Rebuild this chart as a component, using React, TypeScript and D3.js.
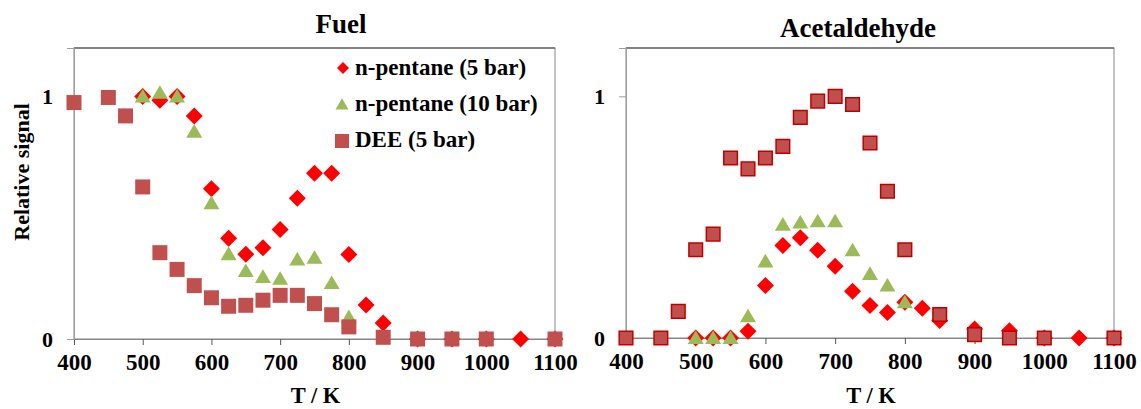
import React, { useRef, useEffect } from 'react';
import * as d3 from 'd3';

// Temperatures (K) and relative signals
const fuelP5T = [500, 525, 550, 575, 600, 625, 650, 675, 700, 725, 750, 775, 800, 825, 850, 900, 950, 1000, 1050, 1100];
const fuelP5 = [1.0, 0.985, 1.0, 0.92, 0.62, 0.415, 0.35, 0.376, 0.452, 0.58, 0.683, 0.683, 0.348, 0.14, 0.066, 0, 0, 0, 0, 0];
const fuelP10T = [500, 525, 550, 575, 600, 625, 650, 675, 700, 725, 750, 775, 800];
const fuelP10 = [1.0, 1.015, 1.0, 0.855, 0.56, 0.35, 0.28, 0.256, 0.248, 0.328, 0.335, 0.231, 0.09];
const fuelDeeT = [400, 450, 475, 500, 525, 550, 575, 600, 625, 650, 675, 700, 725, 750, 775, 800, 850, 900, 950, 1000, 1100];
const fuelDee = [0.975, 0.996, 0.92, 0.627, 0.356, 0.287, 0.22, 0.17, 0.135, 0.139, 0.16, 0.18, 0.18, 0.146, 0.1, 0.05, 0.007, 0, 0, 0, 0];

const aceP5T = [500, 525, 550, 575, 600, 625, 650, 675, 700, 725, 750, 775, 800, 825, 850, 900, 950, 1000, 1050, 1100];
const aceP5 = [0, 0, 0, 0.028, 0.217, 0.383, 0.415, 0.363, 0.297, 0.193, 0.135, 0.106, 0.148, 0.123, 0.072, 0.037, 0.03, 0, 0, 0];
const aceP10T = [500, 525, 550, 575, 600, 625, 650, 675, 700, 725, 750, 775, 800];
const aceP10 = [0, 0, 0, 0.09, 0.317, 0.469, 0.478, 0.483, 0.483, 0.363, 0.265, 0.217, 0.148];
const aceDeeT = [400, 450, 475, 500, 525, 550, 575, 600, 625, 650, 675, 700, 725, 750, 775, 800, 850, 900, 950, 1000, 1100];
const aceDee = [0, 0, 0.11, 0.365, 0.43, 0.745, 0.7, 0.745, 0.793, 0.913, 0.98, 1.0, 0.966, 0.807, 0.607, 0.365, 0.097, 0.014, 0, 0, 0];

const xTicks = [400, 500, 600, 700, 800, 900, 1000, 1100];
const yTicks = [0, 1];
const legendLabels = ['n-pentane (5 bar)', 'n-pentane (10 bar)', 'DEE (5 bar)'];

const RED = '#FF0000';
const GREEN = '#9BBB59';
const BRICK = '#C0504D';
const FONT = '"Liberation Serif", "Times New Roman", serif';

const diamond = (s: number) => `M0,${-s}L${s},0L0,${s}L${-s},0Z`;
const square = (s: number) => `M${-s},${-s}H${s}V${s}H${-s}Z`;
const triangle = (s: number) => `M0,${-s * 0.95}L${s},${s * 0.75}L${-s},${s * 0.75}Z`;

const App = () => {
  const ref = useRef<SVGSVGElement>(null);

  useEffect(() => {
    const svg = d3.select(ref.current);
    svg.selectAll('*').remove();

    const panels = [
      {
        title: 'Fuel', x0: 74, x1: 555, y0: 339, y1: 48, titleX: 341, titleY: 33,
        p5: [fuelP5T, fuelP5], p10: [fuelP10T, fuelP10], dee: [fuelDeeT, fuelDee],
        squareStroke: 'none', legend: true, yLabel: true,
      },
      {
        title: 'Acetaldehyde', x0: 626, x1: 1114, y0: 338, y1: 48, titleX: 858, titleY: 37,
        p5: [aceP5T, aceP5], p10: [aceP10T, aceP10], dee: [aceDeeT, aceDee],
        squareStroke: '#C00000', legend: false, yLabel: false,
      },
    ];

    panels.forEach(p => {
      const x = d3.scaleLinear().domain([400, 1100]).range([p.x0, p.x1]);
      const y = d3.scaleLinear().domain([0, 1.2]).range([p.y0, p.y1]);
      const g = svg.append('g');

      // plot frame
      g.append('rect')
        .attr('x', p.x0).attr('y', p.y1)
        .attr('width', p.x1 - p.x0).attr('height', p.y0 - p.y1)
        .attr('fill', 'none').attr('stroke', '#868686').attr('stroke-width', 1);
      g.append('line')
        .attr('x1', p.x0).attr('x2', p.x1).attr('y1', p.y1).attr('y2', p.y1)
        .attr('stroke', '#444').attr('stroke-width', 1);

      // x axis
      const xAxis = g.append('g')
        .attr('transform', `translate(0,${p.y0})`)
        .call(d3.axisBottom(x).tickValues(xTicks).tickSize(6).tickPadding(9).tickFormat(d3.format('d')));
      xAxis.select('.domain').attr('stroke', '#868686');
      xAxis.selectAll('.tick line').attr('stroke', '#555');
      xAxis.selectAll('.tick text')
        .attr('font-family', FONT).attr('font-weight', 'bold').attr('font-size', 23).attr('fill', '#000');

      // y axis
      const yAxis = g.append('g')
        .attr('transform', `translate(${p.x0},0)`)
        .call(d3.axisLeft(y).tickValues(yTicks).tickSize(7).tickPadding(14).tickFormat(d3.format('d')));
      yAxis.select('.domain').attr('stroke', '#a0a0a0');
      yAxis.selectAll('.tick line').attr('stroke', '#a0a0a0');
      yAxis.selectAll('.tick text')
        .attr('font-family', FONT).attr('font-weight', 'bold').attr('font-size', 22).attr('fill', '#000');

      // titles and labels
      g.append('text')
        .attr('x', p.titleX).attr('y', p.titleY)
        .attr('text-anchor', 'middle')
        .attr('font-family', FONT).attr('font-weight', 'bold').attr('font-size', 27)
        .text(p.title);
      g.append('text')
        .attr('x', (p.x0 + p.x1) / 2 + 1).attr('y', 403)
        .attr('text-anchor', 'middle')
        .attr('font-family', FONT).attr('font-weight', 'bold').attr('font-size', 22.5)
        .text('T / K');
      if (p.yLabel) {
        g.append('text')
          .attr('transform', `translate(29,172) rotate(-90)`)
          .attr('text-anchor', 'middle')
          .attr('font-family', FONT).attr('font-weight', 'bold').attr('font-size', 22)
          .text('Relative signal');
      }

      const drawSeries = (tv: number[][], shape: string, fill: string, stroke: string) => {
        const [ts, vs] = tv;
        g.append('g').selectAll('path')
          .data(ts.map((t, i) => [t, vs[i]]))
          .enter()
          .append('path')
          .attr('d', shape)
          .attr('transform', d => `translate(${x(d[0])},${y(d[1])})`)
          .attr('fill', fill)
          .attr('stroke', stroke)
          .attr('stroke-width', stroke === 'none' ? 0 : 1.5);
      };

      drawSeries(p.p5, diamond(8.5), RED, 'none');
      drawSeries(p.p10, triangle(8), GREEN, 'none');
      drawSeries(p.dee, square(p.squareStroke === 'none' ? 7.5 : 6.8), BRICK, p.squareStroke);

      if (p.legend) {
        const shapes = [diamond(6), triangle(6.5), square(7)];
        const fills = [RED, GREEN, BRICK];
        legendLabels.forEach((lab, i) => {
          const ly = 68 + i * 36;
          g.append('path')
            .attr('d', shapes[i])
            .attr('transform', `translate(${i === 0 ? 343 : 342},${ly + i * 0.5})`)
            .attr('fill', fills[i]);
          g.append('text')
            .attr('x', 355).attr('y', ly + 7)
            .attr('font-family', FONT).attr('font-weight', 'bold').attr('font-size', 23)
            .text(lab);
        });
      }
    });
  }, []);

  return (
    <svg
      ref={ref}
      width={1141}
      height={409}
      style={{ position: 'absolute', left: 0, top: 0, background: '#fff' }}
    />
  );
};

export default App;
